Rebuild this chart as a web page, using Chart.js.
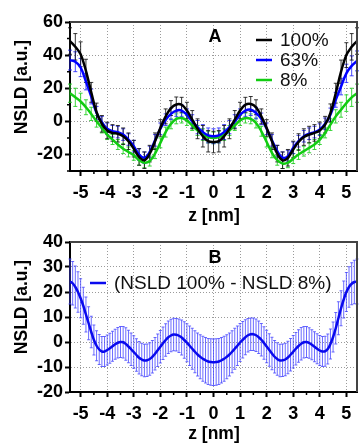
<!DOCTYPE html>
<html><head><meta charset="utf-8">
<script src="https://cdn.jsdelivr.net/npm/chart.js@4.4.1/dist/chart.umd.min.js"></script>
<style>
html,body{margin:0;padding:0;background:#fff;width:359px;height:445px;overflow:hidden}
canvas{position:absolute;left:0}
#ca{top:0}
#cb{top:220px}
</style>
</head><body>
<canvas id="ca" width="359" height="235"></canvas>
<canvas id="cb" width="359" height="225"></canvas>
<script>
// ---------- data ----------
const zA = [-5.4,-5.2,-5.0,-4.8,-4.6,-4.4,-4.2,-4.0,-3.8,-3.6,-3.4,-3.2,-3.0,-2.8,-2.6,-2.4,-2.2,-2.0,-1.8,-1.6,-1.4,-1.2,-1.0,-0.8,-0.6,-0.4,-0.2,0,
  0.2,0.4,0.6,0.8,1.0,1.2,1.4,1.6,1.8,2.0,2.2,2.4,2.6,2.8,3.0,3.2,3.4,3.6,3.8,4.0,4.2,4.4,4.6,4.8,5.0,5.2,5.4];
const nsld100 = [48.5,45,40.5,30.5,17.5,5.5,-1.5,-5.5,-7,-7.5,-9,-12,-16.5,-21.5,-23.5,-19.5,-12,-4,3,8,10.2,10,6.5,1,-4.5,-9,-12,-12.5,
  -12,-9,-4.5,1,6.5,10,10.5,8.5,3,-4,-12,-19.5,-23.5,-22,-17,-12.5,-9.5,-8,-7,-5.5,-2,5,17,30,40,45,48.5];
const nsld63 = [37,36,32.5,24,15,5,-0.5,-4.5,-6,-6.5,-8,-11,-15,-20,-22,-18.5,-11.5,-4.5,1,4.5,6.5,6.5,4,0,-3.5,-6.5,-8.5,-9,
  -8.5,-6.5,-3.5,0,4,6.5,7,5,1.5,-4.5,-11.5,-18,-22,-21,-16,-12,-9,-7.5,-6.5,-5,-1.5,4,13,21,29,33.5,36.5];
const nsld8 = [17,14.5,12,8.5,4.5,0,-4,-8,-11,-14,-16.5,-18.5,-20.5,-23.5,-25,-24,-19.5,-13,-6.5,-1.5,1.5,2,0.5,-2.5,-5.5,-8,-9.5,-10,
  -9.5,-8,-5.5,-2.5,0.5,2,1.5,-1,-6,-12.5,-19,-23.5,-25.5,-25,-22.5,-20,-18,-16,-14,-11,-7,-2,3,7,11,14.5,17];
const err100 = [8,8,7.5,7,6,5.5,5,5,5,5,5,5,5,5,5,5,5,5,4.5,4.5,4.5,4.5,5,5.5,6,6.5,6.5,6.5,
  6.5,6.5,6,5.5,5,4.5,4.5,4.5,4.5,5,5,5,5,5,5,5,5,5,5,5,5,5.5,6,7,7.5,8,8];
const err63 = [6,6,5.5,5,4.5,4,3.5,3.5,3.5,3.5,3.5,3.5,3.5,3.5,3.5,3.5,3.5,3.5,3.5,3.5,3.5,3.5,3.5,4,4,4.5,4.5,4.5,
  4.5,4.5,4,4,3.5,3.5,3.5,3.5,3.5,3.5,3.5,3.5,3.5,3.5,3.5,3.5,3.5,3.5,3.5,3.5,3.5,4,4.5,5,5.5,6,6];
const err8 = [5.5,5.5,5,4.5,4,3.5,3,3,3,3,3,3,3,3,3,3,3,3,3,3,3,3,3,3,3,3.5,3.5,3.5,
  3.5,3.5,3,3,3,3,3,3,3,3,3,3,3,3,3,3,3,3,3,3,3,3.5,4,4.5,5,5.5,5.5];

const zB = [-5.4,-5.3,-5.2,-5.1,-5.0,-4.9,-4.8,-4.7,-4.6,-4.5,-4.4,-4.3,-4.2,-4.1,-4.0,-3.9,-3.8,-3.7,-3.6,-3.5,-3.4,-3.3,-3.2,-3.1,-3.0,
  -2.9,-2.8,-2.7,-2.6,-2.5,-2.4,-2.3,-2.2,-2.1,-2.0,-1.9,-1.8,-1.7,-1.6,-1.5,-1.4,-1.3,-1.2,-1.1,-1.0,-0.9,-0.8,-0.7,-0.6,-0.5,-0.4,-0.3,-0.2,-0.1,0,
  0.1,0.2,0.3,0.4,0.5,0.6,0.7,0.8,0.9,1.0,1.1,1.2,1.3,1.4,1.5,1.6,1.7,1.8,1.9,2.0,2.1,2.2,2.3,2.4,2.5,2.6,2.7,2.8,2.9,3.0,
  3.1,3.2,3.3,3.4,3.5,3.6,3.7,3.8,3.9,4.0,4.1,4.2,4.3,4.4,4.5,4.6,4.7,4.8,4.9,5.0,5.1,5.2,5.3,5.4];
const diffB = [24.2,23.5,22,20,17.5,14.5,11,7.5,4,0.8,-1.5,-3,-3.8,-3.8,-3.2,-2.5,-1.7,-0.9,-0.3,0,-0.1,-0.8,-1.8,-2.9,-4,
  -5.2,-6.3,-7,-7.4,-7.3,-6.8,-5.9,-4.7,-3.3,-1.9,-0.5,0.8,1.9,2.6,3,2.9,2.5,1.8,0.8,-0.3,-1.5,-2.7,-3.9,-5,-5.9,-6.7,-7.3,-7.8,-8,-8.1,
  -8,-7.8,-7.3,-6.7,-5.9,-5,-3.9,-2.7,-1.5,-0.2,0.9,1.9,2.7,3.1,3.1,2.7,1.9,0.9,-0.4,-1.8,-3.2,-4.6,-5.9,-6.8,-7.4,-7.3,-7,-6.2,-5.1,-3.9,
  -2.7,-1.6,-0.7,-0.1,0,-0.4,-1.1,-1.9,-2.7,-3.4,-3.8,-3.7,-2.8,-0.8,2,5.5,9.5,13.5,17,20,22,23.3,24,24.2];
const errB = [9,8.7,8.4,8.1,7.8,7.4,7,6.6,6.3,6,6,6,6,6,6,6,6,6,6.1,6.2,6.3,6.5,6.5,6.5,6.5,
  6.5,6.5,6.5,6.5,6.5,6.5,6.5,6.5,6.5,6.5,6.5,6.5,6.5,6.5,6.5,6.5,6.7,7,7.3,7.6,7.9,8.2,8.4,8.6,8.8,9,9.1,9.2,9.3,9.3,
  9.3,9.2,9.1,9,8.8,8.6,8.4,8.2,7.9,7.6,7.3,7,6.7,6.5,6.5,6.5,6.5,6.5,6.5,6.5,6.5,6.5,6.5,6.5,6.5,6.5,6.5,6.5,6.5,6.5,
  6.5,6.5,6.5,6.3,6.2,6.1,6,6,6,6,6,6,6,6,6,6.3,6.6,7,7.4,7.8,8.1,8.4,8.7,9];

const xTicks = [-5,-4,-3,-2,-1,0,1,2,3,4,5];
const xMinor = [-4.5,-3.5,-2.5,-1.5,-0.5,0.5,1.5,2.5,3.5,4.5];
const yTicksA = [-20,0,20,40,60];
const yMinorA = [-30,-10,10,30,50];
const yTicksB = [-20,-10,0,10,20,30,40];
const yMinorB = [];
const labelsA = ['100%','63%','8%'];
const labelsB = ['(NSLD 100% - NSLD 8%)'];
const panelA = 'A', panelB = 'B';
const xTitle = 'z [nm]';
const yTitle = 'NSLD [a.u.]';

// ---------- helpers ----------
const FONT = "'Liberation Sans', Arial, sans-serif";
const pts = (xs, ys) => xs.map((x, i) => ({x: x, y: ys[i]}));

const errorBars = {
  id: 'errorBars',
  beforeDatasetsDraw(chart) {
    const {ctx, scales: {x, y}} = chart;
    const dss = chart.data.datasets;
    for (let k = dss.length - 1; k >= 0; k--) {
      const ds = dss[k];
      if (!ds.errors) continue;
      const cw = ds.capHalf;
      ctx.save();
      ctx.strokeStyle = ds.errColor;
      ctx.lineWidth = 1;
      ctx.beginPath();
      ds.data.forEach((p, i) => {
        const e = ds.errors[i];
        const px = x.getPixelForValue(p.x);
        const y1 = y.getPixelForValue(p.y + e), y2 = y.getPixelForValue(p.y - e);
        ctx.moveTo(px, y1); ctx.lineTo(px, y2);
        ctx.moveTo(px - cw, y1); ctx.lineTo(px + cw, y1);
        ctx.moveTo(px - cw, y2); ctx.lineTo(px + cw, y2);
      });
      ctx.stroke();
      ctx.restore();
    }
  }
};

function decorations(cfg) {
  return {
    id: 'decor',
    afterDraw(chart) {
      const {ctx, chartArea: a, scales: {x, y}} = chart;
      ctx.save();
      // top & right frame
      ctx.strokeStyle = '#444'; ctx.lineWidth = 2;
      ctx.beginPath();
      ctx.moveTo(a.left, a.top); ctx.lineTo(a.right, a.top); ctx.lineTo(a.right, a.bottom);
      ctx.stroke();
      // minor ticks
      ctx.strokeStyle = '#000'; ctx.lineWidth = 1.5;
      ctx.beginPath();
      xMinor.forEach(v => { const px = x.getPixelForValue(v); ctx.moveTo(px, a.bottom); ctx.lineTo(px, a.bottom + 3); });
      cfg.yMinor.forEach(v => { const py = y.getPixelForValue(v); ctx.moveTo(a.left, py); ctx.lineTo(a.left - 3, py); });
      ctx.stroke();
      // axis titles
      ctx.fillStyle = '#000';
      ctx.font = 'bold 17.5px ' + FONT;
      ctx.textAlign = 'center'; ctx.textBaseline = 'alphabetic';
      ctx.fillText(xTitle, 214, cfg.xTitleY);
      ctx.save();
      ctx.translate(27, 87); ctx.rotate(-Math.PI / 2);
      ctx.fillText(yTitle, 0, 0);
      ctx.restore();
      // panel letter
      ctx.font = 'bold 18px ' + FONT;
      ctx.textBaseline = 'middle';
      ctx.fillText(cfg.panel, 215, cfg.panelY);
      // legend
      ctx.textAlign = 'left';
      ctx.font = '19px ' + FONT;
      chart.data.datasets.forEach((ds, i) => {
        const ly = cfg.legY + i * 20;
        ctx.strokeStyle = ds.borderColor; ctx.lineWidth = 2.5;
        ctx.beginPath(); ctx.moveTo(cfg.legX, ly); ctx.lineTo(cfg.legX + 16, ly); ctx.stroke();
        ctx.fillStyle = '#111';
        ctx.fillText(ds.label, cfg.legX + 24, ly + 1);
      });
      ctx.restore();
    }
  };
}

function scalesFor(yMin, yMax, yTicks, xAxisH) {
  const tickFont = {family: FONT, weight: 'bold', size: 18};
  return {
    x: {
      type: 'linear', min: -5.4, max: 5.4,
      afterBuildTicks: s => { s.ticks = xTicks.map(v => ({value: v})); },
      afterFit: s => { s.height = xAxisH; },
      grid: {color: '#9a9a9a', lineWidth: 1, tickColor: '#000', tickWidth: 2, tickLength: 5},
      border: {color: '#000', width: 2, dash: [1, 2]},
      ticks: {font: tickFont, color: '#000', padding: 6, maxRotation: 0, autoSkip: false, callback: v => String(v)}
    },
    y: {
      type: 'linear', min: yMin, max: yMax,
      afterBuildTicks: s => { s.ticks = yTicks.map(v => ({value: v})); },
      afterFit: s => { s.width = 70; },
      grid: {color: '#9a9a9a', lineWidth: 1, tickColor: '#000', tickWidth: 2, tickLength: 5},
      border: {color: '#000', width: 2, dash: [1, 2]},
      ticks: {font: tickFont, color: '#000', padding: 2, autoSkip: false, callback: v => String(v)}
    }
  };
}

const lineDs = (label, xs, ys, errs, color, errColor, capHalf) => ({
  label: label, data: pts(xs, ys), errors: errs, errColor: errColor, capHalf: capHalf,
  borderColor: color, borderWidth: 2.5, pointRadius: 0, tension: 0.4, fill: false
});

new Chart(document.getElementById('ca'), {
  type: 'line',
  data: {datasets: [
    lineDs(labelsA[0], zA, nsld100, err100, '#000000', 'rgba(20,20,20,0.85)', 2),
    lineDs(labelsA[1], zA, nsld63, err63, '#0000ff', 'rgba(40,40,255,0.85)', 2),
    lineDs(labelsA[2], zA, nsld8, err8, '#11cc11', 'rgba(40,210,40,0.9)', 2)
  ]},
  options: {
    responsive: false, animation: false,
    layout: {padding: {top: 22, right: 2, left: 0, bottom: 0}},
    plugins: {legend: {display: false}, tooltip: {enabled: false}},
    scales: scalesFor(-30, 60, yTicksA, 64)
  },
  plugins: [errorBars, decorations({yMinor: yMinorA, xTitleY: 220.5, panel: panelA, panelY: 37, legX: 256, legY: 40})]
});

new Chart(document.getElementById('cb'), {
  type: 'line',
  data: {datasets: [
    lineDs(labelsB[0], zB, diffB, errB, '#0a0aee', 'rgba(70,70,255,0.8)', 1.5)
  ]},
  options: {
    responsive: false, animation: false,
    layout: {padding: {top: 22, right: 2, left: 0, bottom: 0}},
    plugins: {legend: {display: false}, tooltip: {enabled: false}},
    scales: scalesFor(-20, 40, yTicksB, 53)
  },
  plugins: [errorBars, decorations({yMinor: yMinorB, xTitleY: 219, panel: panelB, panelY: 38.5, legX: 90, legY: 63})]
});
</script>
</body></html>
